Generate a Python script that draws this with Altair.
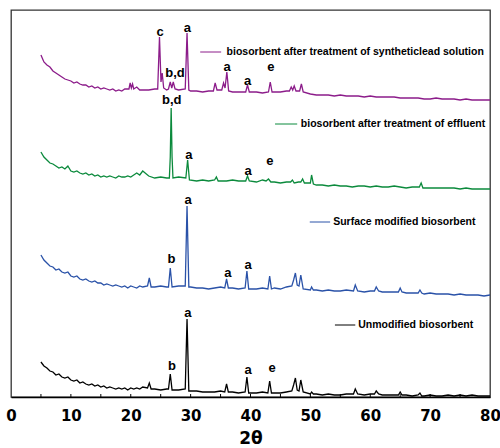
import altair as alt
import pandas as pd

# ---------------- data ----------------
series_names = [
    "Unmodified biosorbent",
    "Surface modified biosorbent",
    "biosorbent after treatment of effluent",
    "biosorbent after treatment of syntheticlead solution",
]
series_colors = ["#000000", "#2a52a8", "#0b8a3c", "#8c1c8a"]

grid_x = [5.0, 5.5, 6.0, 6.5, 7.0, 7.5, 8.0, 8.5, 9.0, 9.5, 10.0, 10.5, 11.0, 11.5,
          12.0, 12.5, 13.0, 13.5, 14.0, 14.5, 15.0, 15.5, 16.0, 16.5, 17.0, 17.5,
          18.0, 18.5, 19.0, 19.5, 20.0, 20.5, 21.0, 21.5, 22.0,
          23, 24, 25, 26, 27, 28, 29, 30,
          31, 32, 33, 34, 35, 36, 37, 38, 39, 40,
          41, 42, 43, 44, 45, 46, 47, 48, 49, 50,
          51, 52, 53, 54, 55, 56, 57, 58, 59, 60,
          61, 62, 63, 64, 65, 66, 67, 68, 69, 70,
          71, 72, 73, 74, 75, 76, 77, 78, 79, 80]

unmodified_base = [35, 31, 29, 26, 25, 22, 23, 20, 19, 20, 17, 16, 17, 14, 15, 13, 12, 13,
                   11, 12, 10, 11, 9, 10, 9, 8, 9, 8, 9, 7, 9, 8, 9, 8, 10,
                   9, 8, 7, 8, 7, 7, 8, 6,
                   6, 5, 5, 5, 6, 5, 5, 4, 5, 4,
                   4, 5, 4, 4, 4, 5, 5, 5, 4, 3,
                   3, 2, 3, 2, 2, 3, 3, 3, 2, 3,
                   3, 2, 2, 2, 2, 2, 1, 2, 1, 2,
                   1, 1, 2, 1, 2, 1, 2, 1, 1, 1]
unmodified_peaks = [(22.8, 9), (23.1, 14), (23.4, 8),
                    (26.3, 8), (26.6, 23), (26.9, 7),
                    (29.1, 8), (29.4, 78), (29.7, 6),
                    (35.7, 5), (36.0, 13), (36.3, 5),
                    (39.1, 5), (39.4, 20), (39.7, 4),
                    (42.9, 4), (43.2, 16), (43.5, 4),
                    (46.9, 6), (47.2, 12), (47.5, 19), (47.8, 7), (48.1, 6), (48.4, 17), (48.8, 5),
                    (50.0, 3), (50.2, 5), (50.5, 3),
                    (57.2, 3), (57.5, 8), (57.9, 3),
                    (60.7, 3), (61.0, 6), (61.4, 3),
                    (64.7, 2), (65.0, 5), (65.3, 2),
                    (68.0, 2), (68.3, 4), (68.6, 1)]

surface_base = [142, 137, 134, 131, 130, 127, 128, 125, 124, 125, 121, 120, 121, 118, 117,
                118, 116, 115, 116, 114, 114, 112, 113, 112, 111, 112, 111, 110, 111, 109,
                111, 110, 109, 111, 110,
                112, 110, 111, 110, 111, 111, 112, 110,
                109, 109, 108, 109, 110, 109, 109, 108, 109, 108,
                108, 109, 108, 109, 108, 110, 110, 110, 108, 107,
                107, 106, 107, 106, 106, 107, 106, 106, 105, 106,
                106, 105, 105, 105, 105, 104, 104, 104, 103, 104,
                103, 103, 103, 102, 103, 102, 102, 102, 101, 102]
surface_peaks = [(22.8, 111), (23.1, 119), (23.4, 110),
                 (26.3, 110), (26.6, 129), (26.9, 110),
                 (29.1, 111), (29.4, 191), (29.7, 110),
                 (35.7, 109), (36.0, 118), (36.3, 109),
                 (39.1, 109), (39.4, 126), (39.7, 108),
                 (42.9, 108), (43.2, 121), (43.5, 108),
                 (46.9, 111), (47.2, 117), (47.5, 124), (47.8, 112), (48.1, 111), (48.4, 122), (48.8, 108),
                 (50.0, 107), (50.2, 110), (50.5, 107),
                 (57.2, 106), (57.5, 112), (57.9, 106),
                 (60.7, 106), (61.0, 110), (61.4, 106),
                 (64.7, 105), (65.0, 109), (65.3, 105),
                 (68.0, 104), (68.3, 107), (68.6, 104)]

effluent_base = [245, 240, 237, 234, 233, 231, 229, 230, 228, 231, 226, 225, 226, 224, 223,
                 224, 222, 223, 221, 222, 220, 221, 220, 221, 220, 219, 221, 220, 220, 221,
                 220, 222, 224, 222, 226,
                 221, 219, 220, 219, 219, 220, 219, 217,
                 216, 217, 216, 217, 216, 216, 217, 216, 217, 216,
                 215, 217, 215, 215, 214, 215, 214, 215, 214, 215,
                 212, 212, 211, 212, 211, 211, 210, 211, 211, 210,
                 211, 210, 210, 211, 210, 209, 210, 210, 210, 209,
                 209, 209, 209, 209, 208, 209, 208, 208, 208, 208]
effluent_peaks = [(26.45, 219), (26.6, 240), (26.75, 289), (26.9, 240), (27.05, 219),
                  (29.2, 219), (29.5, 237), (29.8, 217),
                  (34.0, 217), (34.3, 220), (34.6, 216),
                  (39.2, 216), (39.5, 221), (39.8, 216),
                  (42.6, 216), (43.0, 218), (43.4, 215),
                  (46.7, 215), (47.0, 217), (47.3, 214),
                  (48.4, 215), (48.7, 218), (49.0, 214),
                  (50.0, 214), (50.2, 222), (50.5, 213),
                  (68.2, 210), (68.5, 214), (68.8, 209)]

lead_base = [342, 335, 332, 330, 326, 324, 322, 320, 318, 317, 316, 314, 315, 313, 312,
             312, 310, 311, 309, 310, 308, 309, 308, 307, 308, 306, 307, 306, 308, 309,
             308, 308, 310, 307, 307,
             307, 308, 308, 307, 308, 307, 308, 306,
             306, 305, 306, 307, 306, 306, 305, 305, 306, 305,
             305, 304, 305, 305, 305, 306, 307, 306, 305, 303,
             302, 302, 302, 301, 302, 301, 301, 301, 300, 301,
             300, 300, 300, 300, 299, 299, 299, 299, 298, 298,
             299, 298, 298, 298, 297, 298, 297, 297, 297, 297]
lead_peaks = [(19.7, 308), (19.9, 314), (20.1, 309), (20.3, 313), (20.5, 308),
              (24.5, 308), (24.8, 360), (25.05, 315), (25.25, 324), (25.5, 309),
              (26.3, 308), (26.6, 315), (26.85, 309), (27.1, 315), (27.4, 308),
              (29.1, 308), (29.4, 364), (29.7, 307),
              (33.8, 306), (34.1, 314), (34.4, 307),
              (35.2, 307), (35.5, 314), (35.75, 309), (36.05, 325), (36.35, 306),
              (39.2, 305), (39.5, 312), (39.8, 305),
              (43.0, 305), (43.3, 315), (43.6, 305),
              (46.5, 306), (46.8, 310), (47.05, 307), (47.3, 311), (47.6, 306),
              (48.2, 306), (48.5, 313), (48.8, 305)]

# peak annotations
ann_x = [24.9, 29.45, 27.4, 36.1, 39.5, 43.4,
         26.85, 29.7, 39.6, 43.25,
         29.6, 26.8, 36.2, 39.6,
         29.55, 26.9, 39.6, 43.6]
ann_y = [365, 369, 324, 330, 316, 330,
         297, 242, 226, 236,
         197, 138, 124, 132,
         84, 31, 27, 29]
ann_text = ["c", "a", "b,d", "a", "a", "e",
            "b,d", "a", "a", "e",
            "a", "b", "a", "a",
            "a", "b", "a", "e"]

# in-plot legend entries (data coordinates)
legend_x1 = [54.1, 49.9, 44.1, 31.6]
legend_x2 = [57.5, 53.3, 47.8, 35.1]
legend_y = [72, 175, 273, 345]
legend_text_x = [58.0, 53.8, 48.4, 36.0]

tick_values = [5, 10, 15, 20, 25, 30, 35, 40, 45, 50, 55, 60, 65, 70, 75]
label_values = [0, 10, 20, 30, 40, 50, 60, 70, 80]

# ---------------- build tables ----------------
bases = [unmodified_base, surface_base, effluent_base, lead_base]
peaks = [unmodified_peaks, surface_peaks, effluent_peaks, lead_peaks]
rows = []
for name, base, pk in zip(series_names, bases, peaks):
    pxs = [p[0] for p in pk]
    pts = [(x, y) for x, y in zip(grid_x, base) if min(abs(x - p) for p in pxs) > 0.25]
    pts += pk
    pts.sort()
    for x, y in pts:
        rows.append({"series": name, "x": x, "y": y})
df = pd.DataFrame(rows)

ann_df = pd.DataFrame({"x": ann_x, "y": ann_y, "t": ann_text})
leg_df = pd.DataFrame({"series": series_names, "x1": legend_x1, "x2": legend_x2,
                       "y": legend_y, "tx": legend_text_x})
tick_df = pd.DataFrame({"x": tick_values})

x_scale = alt.Scale(domain=[0, 80], nice=False, zero=False)
y_scale = alt.Scale(domain=[0, 387], nice=False, zero=False)
c_scale = alt.Scale(domain=series_names, range=series_colors)

lines = alt.Chart(df).mark_line(strokeWidth=1.3).encode(
    x=alt.X("x:Q", scale=x_scale,
            axis=alt.Axis(values=label_values, title="2θ", grid=False, ticks=False,
                          labelFlush=False,
                          labelFont="DejaVu Sans", labelFontWeight="bold", labelFontSize=15,
                          labelColor="black", labelPadding=11,
                          titleFont="DejaVu Sans", titleFontWeight="bold", titleFontSize=17,
                          titleColor="black", titlePadding=7,
                          domainColor="black", domainWidth=1.5)),
    y=alt.Y("y:Q", scale=y_scale, axis=None),
    color=alt.Color("series:N", scale=c_scale, legend=None),
)

ticks = alt.Chart(tick_df).mark_rule(color="black", strokeWidth=1).encode(
    x=alt.X("x:Q", scale=x_scale),
    y=alt.value(384), y2=alt.value(387),
)

ann = alt.Chart(ann_df).mark_text(font="Liberation Sans", fontWeight="bold", fontSize=13,
                                  baseline="middle", align="center", color="black").encode(
    x=alt.X("x:Q", scale=x_scale), y=alt.Y("y:Q", scale=y_scale), text="t:N")

leg_rules = alt.Chart(leg_df).mark_rule(strokeWidth=1).encode(
    x=alt.X("x1:Q", scale=x_scale), x2="x2:Q", y=alt.Y("y:Q", scale=y_scale),
    color=alt.Color("series:N", scale=c_scale, legend=None))

leg_text = alt.Chart(leg_df).mark_text(font="Liberation Sans", fontWeight="bold", fontSize=10.5,
                                       align="left", baseline="middle", color="black").encode(
    x=alt.X("tx:Q", scale=x_scale), y=alt.Y("y:Q", scale=y_scale), text="series:N")

chart = alt.layer(lines, ticks, ann, leg_rules, leg_text).properties(
    width=479, height=387,
    autosize=alt.AutoSizeParams(type="none"),
    padding={"left": 11, "top": 10, "right": 10, "bottom": 51},
    background="white",
).configure_view(stroke="#333333", strokeWidth=1.3)

chart.save("out.html", embed_options={"renderer": "svg", "actions": False})
